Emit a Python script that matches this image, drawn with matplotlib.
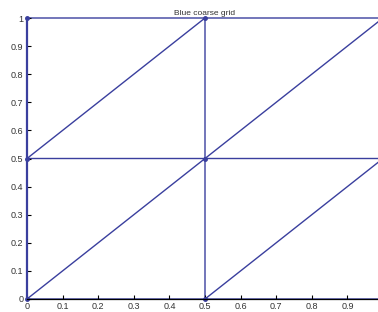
import matplotlib
matplotlib.use('Agg')
import matplotlib.pyplot as plt
import matplotlib.tri as mtri
import numpy as np

# node coordinates of the coarse grid
node_x = np.array([0.0, 0.5, 1.0, 0.0, 0.5, 1.0, 0.0, 0.5, 1.0])
node_y = np.array([0.0, 0.0, 0.0, 0.5, 0.5, 0.5, 1.0, 1.0, 1.0])
# triangles (node indices), each square split along its rising diagonal
triangles = [
    [0, 1, 4], [0, 4, 3],
    [1, 2, 5], [1, 5, 4],
    [3, 4, 7], [3, 7, 6],
    [4, 5, 8], [4, 8, 7],
]
ticks = np.arange(0, 1.0, 0.1)
tick_labels = ['0', '0.1', '0.2', '0.3', '0.4', '0.5', '0.6', '0.7', '0.8', '0.9']

plt.rcParams['font.family'] = ['Liberation Sans', 'DejaVu Sans']

fig = plt.figure(figsize=(3.78, 3.12), dpi=100)
ax = fig.add_axes([27/378, 13/312, 356/378, 281/312])

tri = mtri.Triangulation(node_x, node_y, triangles)
lines = ax.triplot(tri, color='#3a3f9e', linewidth=1.0, marker='o', markersize=2.5)
for ln in lines:
    ln.set_clip_on(False)
# left boundary looks heavier in the original
ax.plot([0, 0], [0, 1], color='#3a3f9e', linewidth=1.6, clip_on=False)

ax.set_xlim(0, 1)
ax.set_ylim(0, 1)
ax.set_xticks(ticks)
ax.set_xticklabels(tick_labels)
ax.set_yticks(np.arange(0, 1.01, 0.1))
ax.set_yticklabels(['0', '0.1', '0.2', '0.3', '0.4', '0.5', '0.6', '0.7', '0.8', '0.9', '1'])
ax.tick_params(direction='in', length=3, width=0.8, labelsize=6.5, labelcolor='#333333', pad=2.5)

for s in ['left', 'top', 'right']:
    ax.spines[s].set_visible(False)
ax.spines['bottom'].set_zorder(3)
ax.spines['bottom'].set_linewidth(0.9)
ax.spines['bottom'].set_color('black')

ax.set_title('Blue coarse grid', fontsize=6, color='#333333', pad=2.5)

fig.savefig('out.png', dpi=100)
